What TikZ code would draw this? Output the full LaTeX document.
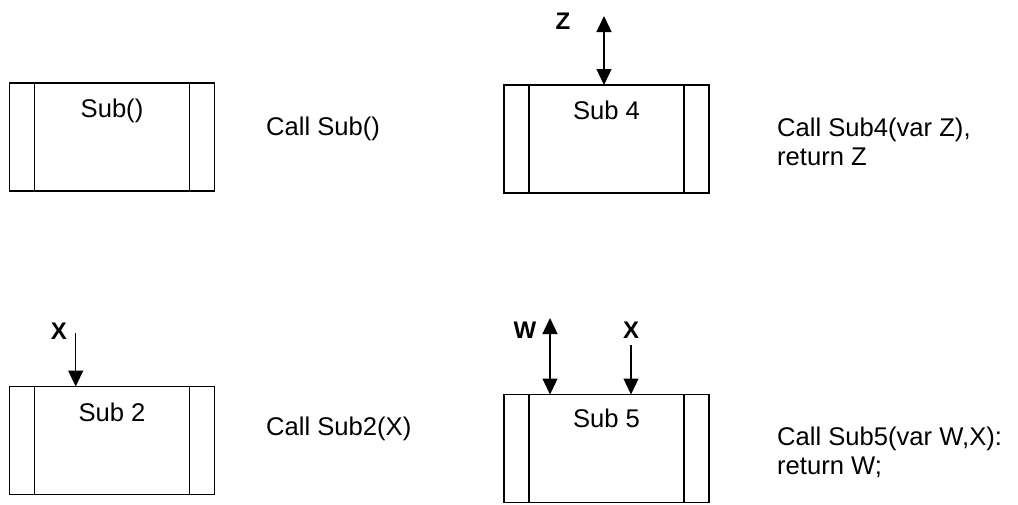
\documentclass[tikz,border=0pt]{standalone}
\usepackage{fontspec}
\setmainfont{Liberation Sans}
\usetikzlibrary{arrows.meta}
\begin{document}
\begin{tikzpicture}[x=1pt,y=-1pt,
  subbox/.style={draw,line width=1.4pt,inner sep=0pt,outer sep=0pt,minimum width=205pt,minimum height=108pt},
  boxlabel/.style={anchor=base,inner sep=0pt,font=\fontsize{25.6}{29.4}\selectfont},
  calltext/.style={anchor=base west,inner sep=0pt,font=\fontsize{25.6}{29.4}\selectfont},
  varlabel/.style={anchor=center,inner sep=0pt,font=\fontsize{24}{28}\selectfont\bfseries},
  flow/.style={line width=1.3pt,-{Triangle[length=16pt,width=15pt]}},
  flowboth/.style={line width=1.3pt,{Triangle[length=16pt,width=15pt]}-{Triangle[length=16pt,width=15pt]}}]
\useasboundingbox (0,0) rectangle (1018,504);
% boxes
\node[subbox] (b1) at (112,137) {};
\node[subbox] (b4) at (606.5,139) {};
\node[subbox] (b2) at (112,440.5) {};
\node[subbox] (b5) at (606.5,448.5) {};
\foreach \b in {b1,b4,b2,b5}{
  \draw[line width=1.4pt] ([xshift=25pt]\b.north west) -- ([xshift=25pt]\b.south west);
  \draw[line width=1.4pt] ([xshift=-25pt]\b.north east) -- ([xshift=-25pt]\b.south east);
}
% box labels
\node[boxlabel] (l1) at (112,117) {Sub()};
\node[boxlabel] (l4) at (606.5,119) {Sub 4};
\node[boxlabel] (l2) at (112,421) {Sub 2};
\node[boxlabel] (l5) at (606.5,427) {Sub 5};
% call texts
\node[calltext] (c1) at (266,135) {Call Sub()};
\node[calltext] (c4a) at (777,136) {Call Sub4(var Z),};
\node[calltext] (c4b) at (777,165) {return Z};
\node[calltext] (c2) at (266,435) {Call Sub2(X)};
\node[calltext] (c5a) at (777,445) {Call Sub5(var W,X):};
\node[calltext] (c5b) at (777,474) {return W;};
% variable labels
\node[varlabel] (z) at (563,21) {Z};
\node[varlabel] (x2) at (59,331) {X};
\node[varlabel] (w) at (525,330) {W};
\node[varlabel] (x5) at (631,330) {X};
% arrows
\coordinate (za) at (604,16);
\draw[flowboth] (za) -- (za |- b4.north);
\coordinate (xa) at (75.7,333);
\draw[flow] (xa) -- (xa |- b2.north);
\coordinate (wa) at (550,318);
\draw[flowboth] (wa) -- (wa |- b5.north);
\coordinate (x5a) at (631,345);
\draw[flow] (x5a) -- (x5a |- b5.north);
\end{tikzpicture}
\end{document}
